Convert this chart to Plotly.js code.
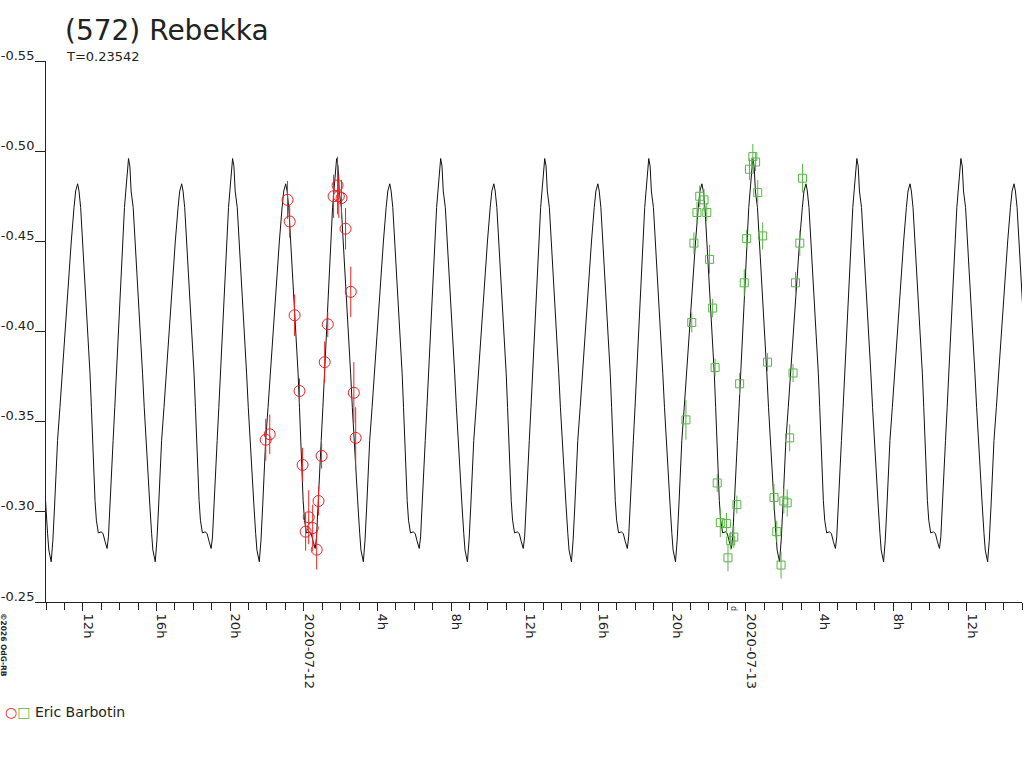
<!DOCTYPE html>
<html>
<head>
<meta charset="utf-8">
<script src="https://cdn.plot.ly/plotly-3.0.1.min.js"></script>
<style>
  html, body { margin: 0; padding: 0; background: #fff; }
  #lc { width: 1024px; height: 768px; }
</style>
</head>
<body>
<div id="lc"></div>
<script>
// period (days) and epoch of the deep minimum of the fitted curve
const period = 0.23542;
const epoch = "2020-07-11T15:56:00Z";

// one cycle of the model curve (phase 0 = deep minimum)
const modelPhase = [0, 0.016, 0.032, 0.045, 0.061, 0.084, 0.106, 0.125, 0.145, 0.167,
  0.193, 0.219, 0.235, 0.254, 0.267, 0.283, 0.302, 0.322, 0.341, 0.357,
  0.373, 0.386, 0.399, 0.408, 0.421, 0.434, 0.453, 0.479, 0.498, 0.518,
  0.537, 0.550, 0.566, 0.582, 0.595, 0.611, 0.627, 0.640, 0.653, 0.669,
  0.685, 0.704, 0.717, 0.733, 0.743, 0.756, 0.768, 0.788, 0.807, 0.823,
  0.839, 0.859, 0.878, 0.894, 0.910, 0.929, 0.949, 0.965, 0.977];
const modelMag = [-0.2723, -0.2843, -0.3027, -0.3212, -0.3396, -0.3580, -0.3765, -0.3949, -0.4133, -0.4318,
  -0.4502, -0.4687, -0.4779, -0.4819, -0.4779, -0.4687, -0.4502, -0.4318, -0.4133, -0.3949,
  -0.3765, -0.3580, -0.3396, -0.3212, -0.3064, -0.2954, -0.2883, -0.2889, -0.2880, -0.2834,
  -0.2797, -0.2861, -0.3027, -0.3212, -0.3396, -0.3580, -0.3765, -0.3949, -0.4133, -0.4318,
  -0.4502, -0.4687, -0.4779, -0.4908, -0.4959, -0.4917, -0.4779, -0.4687, -0.4502, -0.4318,
  -0.4133, -0.3949, -0.3765, -0.3580, -0.3396, -0.3212, -0.3027, -0.2880, -0.2788];

// session 1 (red circles)
const redTime = ["2020-07-11 21:56", "2020-07-11 22:09", "2020-07-11 23:07", "2020-07-11 23:14",
  "2020-07-11 23:30", "2020-07-11 23:46", "2020-07-11 23:56", "2020-07-12 00:06",
  "2020-07-12 00:16", "2020-07-12 00:29", "2020-07-12 00:42", "2020-07-12 00:48",
  "2020-07-12 00:58", "2020-07-12 01:08", "2020-07-12 01:18", "2020-07-12 01:37",
  "2020-07-12 01:50", "2020-07-12 01:54", "2020-07-12 02:03", "2020-07-12 02:16",
  "2020-07-12 02:33", "2020-07-12 02:43", "2020-07-12 02:49"];
const redMag = [-0.340, -0.343, -0.473, -0.461, -0.409, -0.367, -0.326, -0.289,
  -0.297, -0.291, -0.279, -0.306, -0.331, -0.383, -0.404, -0.475,
  -0.481, -0.475, -0.474, -0.457, -0.422, -0.366, -0.341];
const redErr = [0.0116, 0.011, 0.0105, 0.009, 0.0115, 0.007, 0.0095, 0.0105,
  0.015, 0.013, 0.011, 0.008, 0.007, 0.0115, 0.007, 0.012,
  0.016, 0.012, 0.010, 0.0115, 0.014, 0.017, 0.017];

// session 2 (green squares)
const greenTime = ["2020-07-12 20:45", "2020-07-12 21:04", "2020-07-12 21:11", "2020-07-12 21:21",
  "2020-07-12 21:30", "2020-07-12 21:44", "2020-07-12 21:53", "2020-07-12 22:02",
  "2020-07-12 22:12", "2020-07-12 22:20", "2020-07-12 22:27", "2020-07-12 22:37",
  "2020-07-12 22:57", "2020-07-12 23:02", "2020-07-12 23:11", "2020-07-12 23:21",
  "2020-07-12 23:31", "2020-07-12 23:40", "2020-07-12 23:55", "2020-07-13 00:03",
  "2020-07-13 00:12", "2020-07-13 00:23", "2020-07-13 00:32", "2020-07-13 00:39",
  "2020-07-13 00:55", "2020-07-13 01:11", "2020-07-13 01:32", "2020-07-13 01:41",
  "2020-07-13 01:55", "2020-07-13 02:04", "2020-07-13 02:15", "2020-07-13 02:23",
  "2020-07-13 02:34", "2020-07-13 02:42", "2020-07-13 02:56", "2020-07-13 03:05"];
const greenMag = [-0.351, -0.405, -0.449, -0.466, -0.475, -0.473, -0.466, -0.440,
  -0.413, -0.380, -0.316, -0.294, -0.2935, -0.2745, -0.284, -0.286,
  -0.304, -0.371, -0.427, -0.4515, -0.490, -0.497, -0.494, -0.477,
  -0.453, -0.383, -0.308, -0.289, -0.2705, -0.306, -0.305, -0.341,
  -0.377, -0.427, -0.449, -0.485];
const greenErr = [0.011, 0.0055, 0.006, 0.006, 0.006, 0.006, 0.005, 0.008,
  0.005, 0.005, 0.005, 0.008, 0.006, 0.0075, 0.005, 0.006,
  0.005, 0.006, 0.0075, 0.005, 0.006, 0.007, 0.005, 0.007,
  0.0075, 0.005, 0.0075, 0.006, 0.0075, 0.007, 0.0075, 0.0075,
  0.005, 0.006, 0.007, 0.008];

// axis ticks
const xTickVals = ["2020-07-11 12:00", "2020-07-11 16:00", "2020-07-11 20:00", "2020-07-12 00:00",
  "2020-07-12 04:00", "2020-07-12 08:00", "2020-07-12 12:00", "2020-07-12 16:00",
  "2020-07-12 20:00", "2020-07-13 00:00", "2020-07-13 04:00", "2020-07-13 08:00",
  "2020-07-13 12:00"];
const xTickText = ["12h", "16h", "20h", "2020-07-12", "4h", "8h", "12h", "16h", "20h",
  "2020-07-13", "4h", "8h", "12h"];
const yTickVals = [-0.55, -0.50, -0.45, -0.40, -0.35, -0.30, -0.25];
const yTickText = ["-0.55", "-0.50", "-0.45", "-0.40", "-0.35", "-0.30", "-0.25"];

const xStart = "2020-07-11 10:00";
const xEnd = "2020-07-13 15:00";

function toMs(s) {
  return Date.parse(s.replace(" ", "T") + (s.endsWith("Z") ? "" : ":00Z"));
}
function fmt(ms) {
  return new Date(ms).toISOString().slice(0, 19).replace("T", " ");
}

// repeat the cycle over the shown time span
const t0 = Date.parse(epoch);
const pMs = period * 86400000;
const lo = toMs(xStart) - pMs, hi = toMs(xEnd) + pMs;
const modelX = [], modelY = [];
for (let k = -3; k < 15; k++) {
  modelPhase.forEach((ph, i) => {
    const t = t0 + (k + ph) * pMs;
    if (t >= lo && t <= hi) {
      modelX.push(fmt(t));
      modelY.push(modelMag[i]);
    }
  });
}

const RED = "#ee2020";
const GREEN = "#55b845";
const INK = "#222";
const FONT = "DejaVu Sans";

const model = {
  x: modelX, y: modelY, type: "scatter", mode: "lines",
  line: { color: "#111", width: 1 }, hoverinfo: "skip", showlegend: false,
};
const red = {
  x: redTime, y: redMag, type: "scatter", mode: "markers",
  marker: { symbol: "circle-open", size: 11, color: RED, line: { width: 1, color: RED } },
  error_y: { type: "data", array: redErr, visible: true, color: RED, thickness: 1, width: 0 },
  showlegend: false,
};
const green = {
  x: greenTime, y: greenMag, type: "scatter", mode: "markers",
  marker: { symbol: "square-open", size: 8, color: GREEN, line: { width: 1, color: GREEN } },
  error_y: { type: "data", array: greenErr, visible: true, color: GREEN, thickness: 1, width: 0 },
  showlegend: false,
};

const layout = {
  width: 1024,
  height: 768,
  margin: { l: 46, r: 2, t: 61, b: 166 },
  paper_bgcolor: "#fff",
  plot_bgcolor: "#fff",
  font: { family: FONT, color: INK, size: 13 },
  showlegend: false,
  title: {
    text: "(572) Rebekka",
    x: 65 / 1024, xref: "container", xanchor: "left",
    y: 1 - 30 / 768, yref: "container", yanchor: "middle",
    font: { family: FONT, size: 28, color: INK },
  },
  xaxis: {
    type: "date",
    range: [xStart, xEnd],
    showgrid: false, zeroline: false,
    showline: true, linecolor: INK, linewidth: 1,
    ticks: "outside", ticklen: 8, tickcolor: INK, tickwidth: 1,
    tickmode: "array", tickvals: xTickVals, ticktext: xTickText,
    tickangle: 90, ticklabelshift: 5,
    tickfont: { family: FONT, size: 13, color: INK },
    minor: { ticks: "outside", dtick: 3600000, tick0: xStart, ticklen: 7, tickcolor: INK, tickwidth: 1, showgrid: false },
  },
  yaxis: {
    range: [-0.25, -0.55],
    showgrid: false, zeroline: false,
    showline: true, linecolor: INK, linewidth: 1,
    ticks: "outside", ticklen: 10, tickcolor: INK, tickwidth: 1,
    tickmode: "array", tickvals: yTickVals, ticktext: yTickText,
    ticklabelshift: 6, ticklabelstandoff: -2,
    tickfont: { family: FONT, size: 13, color: INK },
  },
  annotations: [
    {
      text: "T=0.23542", xref: "paper", yref: "paper",
      x: (64 - 46) / 976, y: (602 - 57) / 541, xanchor: "left", yanchor: "middle",
      showarrow: false, font: { family: FONT, size: 13, color: INK },
    },
    {
      text: '<span style="color:' + RED + '">○</span><span style="color:' + GREEN + '">□</span> Eric Barbotin',
      xref: "paper", yref: "paper",
      x: (3 - 46) / 976, y: (602 - 712) / 541, xanchor: "left", yanchor: "middle",
      showarrow: false, font: { family: FONT, size: 14, color: INK },
    },
    {
      text: "<b>©2026 OdG-RB</b>", xref: "paper", yref: "paper", textangle: 90,
      x: (4 - 46) / 976, y: (602 - 645) / 541, xanchor: "center", yanchor: "middle",
      showarrow: false, font: { family: FONT, size: 7.5, color: INK },
    },
    {
      text: "d", xref: "paper", yref: "paper", textangle: 90,
      x: (734 - 46) / 976, y: (602 - 608) / 541, xanchor: "center", yanchor: "middle",
      showarrow: false, font: { family: FONT, size: 8, color: INK },
    },
  ],
};

Plotly.newPlot("lc", [model, red, green], layout, { displayModeBar: false, staticPlot: true });
</script>
</body>
</html>
